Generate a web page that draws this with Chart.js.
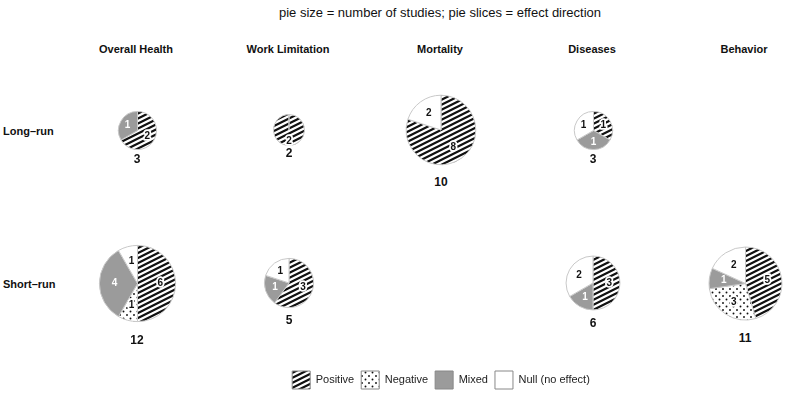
<!DOCTYPE html>
<html>
<head>
<meta charset="utf-8">
<script src="https://cdn.jsdelivr.net/npm/chart.js@4.4.1/dist/chart.umd.min.js"></script>
<style>
  body { margin: 0; background: #fff; }
  #stage { position: relative; width: 787px; height: 396px; overflow: hidden;
           font-family: "Liberation Sans", Arial, sans-serif; color: #111; }
  .txt { position: absolute; white-space: nowrap; transform: translate(-50%, -50%); }
  .title { font-size: 13px; }
  .head { font-size: 11px; font-weight: bold; }
  .row { font-size: 11px; font-weight: bold; transform: translate(0, -50%); }
  .total { font-size: 12px; font-weight: bold; }
  canvas.pie, #legendBox { position: absolute; }
</style>
</head>
<body>
<div id="stage"></div>
<script>
// ---- data ----
const categories = ["Overall Health", "Work Limitation", "Mortality", "Diseases", "Behavior"];
const periods = ["Long\u2013run", "Short\u2013run"];
const effects = ["Positive", "Negative", "Mixed", "Null (no effect)"];

// long-run counts per category
const longPositive = [2, 2, 8, 1, 0];
const longNegative = [0, 0, 0, 0, 0];
const longMixed    = [1, 0, 0, 1, 0];
const longNull     = [0, 0, 2, 1, 0];

// short-run counts per category
const shortPositive = [6, 3, 0, 3, 5];
const shortNegative = [1, 0, 0, 0, 3];
const shortMixed    = [4, 1, 0, 1, 1];
const shortNull     = [1, 1, 0, 2, 2];

const TITLE = "pie size = number of studies; pie slices = effect direction";

// ---- layout ----
const COL_X = [137, 289, 441, 593, 745];
const ROW_Y = [130, 283];
const RADIUS_K = 11;       // r = k * sqrt(n)
const MIXED_GREY = "#9b9b9b";

const stage = document.getElementById("stage");

function addText(cls, text, x, y) {
  const d = document.createElement("div");
  d.className = "txt " + cls;
  d.textContent = text;
  d.style.left = x + "px";
  d.style.top = y + "px";
  stage.appendChild(d);
}

// ---- fills ----
function hatchPattern(ctx) {
  const t = document.createElement("canvas");
  t.width = 10; t.height = 5;
  const c = t.getContext("2d");
  c.fillStyle = "#fff"; c.fillRect(0, 0, 10, 5);
  c.strokeStyle = "#111"; c.lineWidth = 2.2;
  c.beginPath();
  for (let k = -3; k <= 3; k++) {
    c.moveTo(-10, 10 + 5 * k);
    c.lineTo(20, -5 + 5 * k);
  }
  c.stroke();
  return ctx.createPattern(t, "repeat");
}

function dotPattern(ctx) {
  const t = document.createElement("canvas");
  t.width = 7; t.height = 7;
  const c = t.getContext("2d");
  c.fillStyle = "#fff"; c.fillRect(0, 0, 7, 7);
  c.fillStyle = "#111";
  [[1.5, 1.5], [5, 5]].forEach(([x, y]) => {
    c.beginPath(); c.arc(x, y, 0.95, 0, Math.PI * 2); c.fill();
  });
  return ctx.createPattern(t, "repeat");
}

function fillFor(ctx, i) {
  if (i === 0) return hatchPattern(ctx);
  if (i === 1) return dotPattern(ctx);
  if (i === 2) return MIXED_GREY;
  return "#ffffff";
}

// numbers inside slices
const sliceLabels = {
  id: "sliceLabels",
  afterDatasetsDraw(chart) {
    const ctx = chart.ctx;
    const meta = chart.getDatasetMeta(0);
    const vals = chart.data.datasets[0].data;
    const n = vals.reduce((a, b) => a + b, 0);
    ctx.save();
    ctx.font = "bold 10px 'Liberation Sans', Arial, sans-serif";
    ctx.textAlign = "center";
    ctx.textBaseline = "middle";
    meta.data.forEach((arc, i) => {
      if (!vals[i]) return;
      const p = arc.getProps(["x", "y", "startAngle", "endAngle", "outerRadius"], true);
      const mid = (p.startAngle + p.endAngle) / 2;
      const d = p.outerRadius * (vals[i] === n ? 0.72 : 0.6);
      const x = p.x + Math.cos(mid) * d;
      const y = p.y + Math.sin(mid) * d;
      if (i === 2) {
        ctx.fillStyle = "#fff";
      } else {
        if (i < 2) {
          ctx.strokeStyle = "#fff"; ctx.lineWidth = 3.5; ctx.lineJoin = "round";
          ctx.strokeText(String(vals[i]), x, y);
        }
        ctx.fillStyle = "#111";
      }
      ctx.fillText(String(vals[i]), x, y);
    });
    ctx.restore();
  }
};

function makePie(cx, cy, values) {
  const n = values.reduce((a, b) => a + b, 0);
  if (!n) return;
  const r = RADIUS_K * Math.sqrt(n);
  const size = Math.ceil(2 * r + 10);
  const cv = document.createElement("canvas");
  cv.className = "pie";
  cv.width = size; cv.height = size;
  cv.style.left = (cx - size / 2) + "px";
  cv.style.top = (cy - size / 2) + "px";
  stage.appendChild(cv);

  new Chart(cv.getContext("2d"), {
    type: "pie",
    data: {
      labels: effects,
      datasets: [{
        data: values,
        backgroundColor: c => fillFor(c.chart.ctx, c.dataIndex),
        borderColor: "#c8c8c8",
        borderWidth: 1,
        borderJoinStyle: "round",
        radius: r
      }]
    },
    options: {
      responsive: false,
      animation: false,
      events: [],
      layout: { padding: 0 },
      plugins: { legend: { display: false }, tooltip: { enabled: false } }
    },
    plugins: [sliceLabels]
  });

  addText("total", String(n), cx, cy + 1.5 * r);
}

// ---- text ----
addText("title", TITLE, 440, 12);
categories.forEach((c, i) => addText("head", c, COL_X[i] - 1, 49));
periods.forEach((p, j) => addText("row", p, 3, ROW_Y[j] + 1));

// ---- pies ----
const longSets = [longPositive, longNegative, longMixed, longNull];
const shortSets = [shortPositive, shortNegative, shortMixed, shortNull];
categories.forEach((c, i) => {
  makePie(COL_X[i], ROW_Y[0], longSets.map(s => s[i]));
  makePie(COL_X[i], ROW_Y[1], shortSets.map(s => s[i]));
});

// ---- legend (legend-only pie chart; canvas taller than needed so the
//      layout does not cap the legend at half the height) ----
const lg = document.createElement("canvas");
lg.id = "legendBox";
lg.width = 787; lg.height = 90;
lg.style.left = "0px"; lg.style.top = "364px";
stage.appendChild(lg);
new Chart(lg.getContext("2d"), {
  type: "pie",
  data: {
    labels: effects,
    datasets: [{
      data: [0, 0, 0, 0],
      backgroundColor: c => fillFor(c.chart.ctx, c.dataIndex),
      borderColor: "#888",
      borderWidth: 1
    }]
  },
  options: {
    responsive: false,
    animation: false,
    events: [],
    layout: { padding: { left: 95 } },
    plugins: {
      tooltip: { enabled: false },
      legend: {
        position: "top",
        labels: {
          boxWidth: 18, boxHeight: 18, padding: 7,
          color: "#222",
          font: { family: "'Liberation Sans', Arial, sans-serif", size: 11 }
        }
      }
    }
  }
});
</script>
</body>
</html>
